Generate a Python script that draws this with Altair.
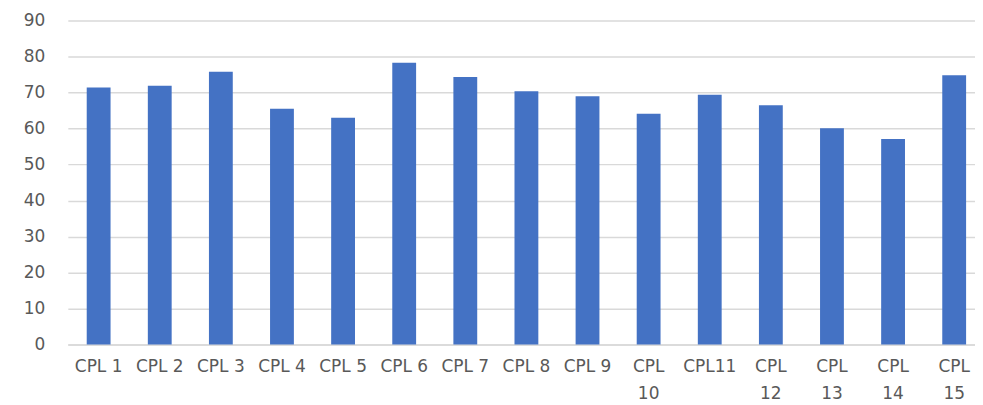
import altair as alt
import pandas as pd

categories = ["CPL 1", "CPL 2", "CPL 3", "CPL 4", "CPL 5", "CPL 6", "CPL 7", "CPL 8",
              "CPL 9", "CPL 10", "CPL11", "CPL 12", "CPL 13", "CPL 14", "CPL 15"]
values = [71.4, 71.9, 75.8, 65.5, 63.0, 78.3, 74.3, 70.4, 69.0, 64.1, 69.4, 66.5, 60.1, 57.1, 74.8]
y_ticks = [0, 10, 20, 30, 40, 50, 60, 70, 80, 90]

df = pd.DataFrame({"cat": categories, "val": values})

font = "DejaVu Sans"
grey = "#595959"
grid = "#d9d9d9"

chart = alt.Chart(df).mark_bar(color="#4472C4").encode(
    x=alt.X("cat:N", sort=categories,
            scale=alt.Scale(paddingInner=0.61, paddingOuter=0.2275, align=0.68),
            axis=alt.Axis(title=None, labelAngle=0, ticks=False, domainColor=grid,
                          domainWidth=1.5, labelColor=grey, labelFont=font, labelFontSize=17,
                          labelPadding=14, labelLineHeight=27, labelBaseline="top",
                          labelExpr="length(datum.label) > 5 ? split(datum.label, ' ') : datum.label")),
    y=alt.Y("val:Q", scale=alt.Scale(domain=[0, 90], nice=False),
            axis=alt.Axis(title=None, values=y_ticks, ticks=False, domain=False,
                          gridColor=grid, gridWidth=1.5, labelColor=grey, labelFont=font,
                          labelFontSize=17, labelPadding=23)),
).properties(
    width=910, height=325,
    autosize=alt.AutoSizeParams(type="none"),
    padding={"left": 60, "top": 12, "right": 0, "bottom": 58},
).configure_view(stroke=None)

chart.save("out.html", embed_options={"renderer": "svg", "actions": False})
